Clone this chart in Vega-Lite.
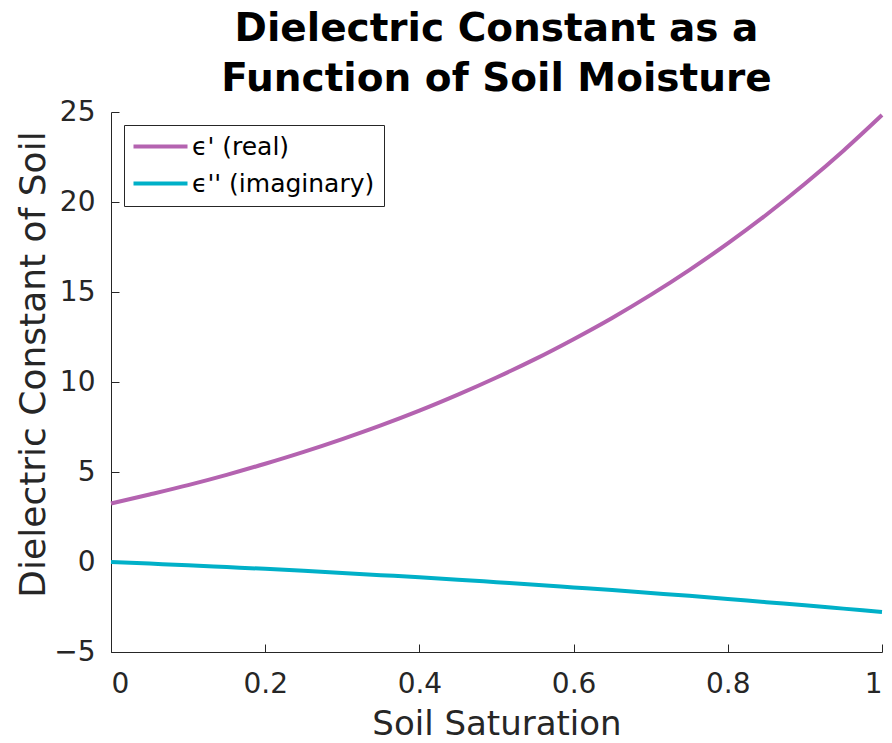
{
  "$schema": "https://vega.github.io/schema/vega-lite/v6.json",
  "autosize": "none",
  "width": 771,
  "height": 540,
  "padding": {"left": 111, "top": 112, "right": 10, "bottom": 91},
  "background": "white",
  "config": {
    "view": {"stroke": null},
    "font": "DejaVu Sans"
  },
  "title": {
    "text": ["Dielectric Constant as a", "Function of Soil Moisture"],
    "fontSize": 39,
    "fontWeight": "bold",
    "font": "DejaVu Sans",
    "color": "black",
    "lineHeight": 50,
    "anchor": "middle",
    "offset": -1
  },
  "data": {
    "values": [
      {"s": 0.00, "v": 3.25, "k": "ϵ' (real)"},
      {"s": 0.05, "v": 3.75, "k": "ϵ' (real)"},
      {"s": 0.10, "v": 4.27, "k": "ϵ' (real)"},
      {"s": 0.15, "v": 4.84, "k": "ϵ' (real)"},
      {"s": 0.20, "v": 5.46, "k": "ϵ' (real)"},
      {"s": 0.25, "v": 6.12, "k": "ϵ' (real)"},
      {"s": 0.30, "v": 6.83, "k": "ϵ' (real)"},
      {"s": 0.35, "v": 7.59, "k": "ϵ' (real)"},
      {"s": 0.40, "v": 8.41, "k": "ϵ' (real)"},
      {"s": 0.45, "v": 9.30, "k": "ϵ' (real)"},
      {"s": 0.50, "v": 10.25, "k": "ϵ' (real)"},
      {"s": 0.55, "v": 11.27, "k": "ϵ' (real)"},
      {"s": 0.60, "v": 12.38, "k": "ϵ' (real)"},
      {"s": 0.65, "v": 13.56, "k": "ϵ' (real)"},
      {"s": 0.70, "v": 14.84, "k": "ϵ' (real)"},
      {"s": 0.75, "v": 16.22, "k": "ϵ' (real)"},
      {"s": 0.80, "v": 17.70, "k": "ϵ' (real)"},
      {"s": 0.85, "v": 19.29, "k": "ϵ' (real)"},
      {"s": 0.90, "v": 21.01, "k": "ϵ' (real)"},
      {"s": 0.95, "v": 22.85, "k": "ϵ' (real)"},
      {"s": 1.00, "v": 24.83, "k": "ϵ' (real)"},
      {"s": 0.00, "v": 0.00, "k": "ϵ'' (imaginary)"},
      {"s": 0.05, "v": -0.09, "k": "ϵ'' (imaginary)"},
      {"s": 0.10, "v": -0.18, "k": "ϵ'' (imaginary)"},
      {"s": 0.15, "v": -0.28, "k": "ϵ'' (imaginary)"},
      {"s": 0.20, "v": -0.38, "k": "ϵ'' (imaginary)"},
      {"s": 0.25, "v": -0.49, "k": "ϵ'' (imaginary)"},
      {"s": 0.30, "v": -0.61, "k": "ϵ'' (imaginary)"},
      {"s": 0.35, "v": -0.73, "k": "ϵ'' (imaginary)"},
      {"s": 0.40, "v": -0.85, "k": "ϵ'' (imaginary)"},
      {"s": 0.45, "v": -0.98, "k": "ϵ'' (imaginary)"},
      {"s": 0.50, "v": -1.12, "k": "ϵ'' (imaginary)"},
      {"s": 0.55, "v": -1.26, "k": "ϵ'' (imaginary)"},
      {"s": 0.60, "v": -1.41, "k": "ϵ'' (imaginary)"},
      {"s": 0.65, "v": -1.56, "k": "ϵ'' (imaginary)"},
      {"s": 0.70, "v": -1.72, "k": "ϵ'' (imaginary)"},
      {"s": 0.75, "v": -1.88, "k": "ϵ'' (imaginary)"},
      {"s": 0.80, "v": -2.05, "k": "ϵ'' (imaginary)"},
      {"s": 0.85, "v": -2.23, "k": "ϵ'' (imaginary)"},
      {"s": 0.90, "v": -2.40, "k": "ϵ'' (imaginary)"},
      {"s": 0.95, "v": -2.59, "k": "ϵ'' (imaginary)"},
      {"s": 1.00, "v": -2.78, "k": "ϵ'' (imaginary)"}
    ]
  },
  "mark": {"type": "line", "strokeWidth": 4, "interpolate": "monotone"},
  "encoding": {
    "x": {
      "field": "s",
      "type": "quantitative",
      "scale": {"domain": [0, 1], "nice": false, "zero": false},
      "axis": {
        "title": "Soil Saturation",
        "values": [0, 0.2, 0.4, 0.6, 0.8, 1],
        "labelExpr": "datum.value == 0 ? '0' : datum.value == 1 ? '1' : format(datum.value, '.1f')",
        "grid": false,
        "domainColor": "#262626",
        "tickColor": "#262626",
        "tickSize": -8,
        "labelPadding": 26,
        "labelFontSize": 28,
        "labelColor": "#262626",
        "titleFontSize": 34,
        "titleFontWeight": "normal",
        "titleColor": "#262626",
        "titlePadding": 9
      }
    },
    "y": {
      "field": "v",
      "type": "quantitative",
      "scale": {"domain": [-5, 25], "nice": false, "zero": false},
      "axis": {
        "title": "Dielectric Constant of Soil",
        "titleY": 252,
        "values": [-5, 0, 5, 10, 15, 20, 25],
        "labelExpr": "datum.value < 0 ? '−' + abs(datum.value) : '' + datum.value",
        "grid": false,
        "domainColor": "#262626",
        "tickColor": "#262626",
        "tickSize": -8,
        "labelPadding": 24,
        "labelFontSize": 28,
        "labelColor": "#262626",
        "titleFontSize": 36,
        "titleFontWeight": "normal",
        "titleColor": "#262626",
        "titlePadding": 1
      }
    },
    "color": {
      "field": "k",
      "type": "nominal",
      "scale": {"domain": ["ϵ' (real)", "ϵ'' (imaginary)"], "range": ["#b463b0", "#00b0c8"]},
      "legend": {
        "title": null,
        "orient": "top-left",
        "offset": 13,
        "strokeColor": "#262626",
        "fillColor": "white",
        "padding": 9,
        "symbolType": "M-1.2,0H4.2",
        "symbolSize": 400,
        "symbolStrokeWidth": 4,
        "labelFontSize": 25,
        "labelLimit": 400,
        "labelColor": "black",
        "rowPadding": 11,
        "labelOffset": 34
      }
    }
  }
}
